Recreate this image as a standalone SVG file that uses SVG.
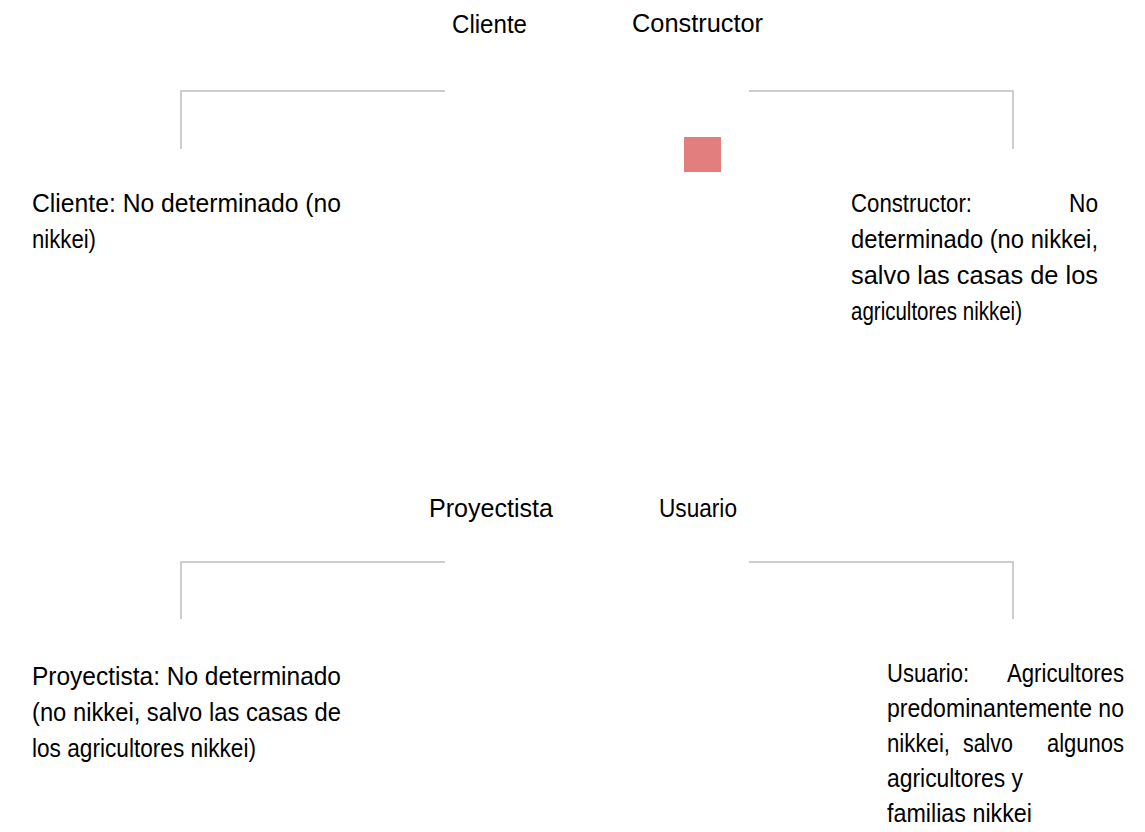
<svg xmlns="http://www.w3.org/2000/svg" width="1145" height="832" viewBox="0 0 1145 832">
<style>
text{font-family:"Liberation Sans",Arial,sans-serif;font-size:25px;fill:#000}
.c{fill:none;stroke:#bdbdbd;stroke-width:1.5}
</style>
<rect width="1145" height="832" fill="#fff"/>
<g id="connectors">
<path class="c" d="M445,91 H181 V149"/>
<path class="c" d="M749,91 H1013 V149"/>
<path class="c" d="M445,562 H181 V619"/>
<path class="c" d="M749,562 H1013 V619"/>
</g>
<g id="marker-red"><rect x="684" y="137" width="37" height="35" fill="#e27e7e"/></g>
<g id="cliente">
<text x="452" y="33" textLength="75" lengthAdjust="spacingAndGlyphs">Cliente</text>
<text x="32" y="212" textLength="309" lengthAdjust="spacingAndGlyphs">Cliente: No determinado (no</text>
<text x="32" y="248" textLength="64" lengthAdjust="spacingAndGlyphs">nikkei)</text>
</g>
<g id="constructor">
<text x="632" y="32" textLength="131" lengthAdjust="spacingAndGlyphs">Constructor</text>
<text x="851" y="212" textLength="121" lengthAdjust="spacingAndGlyphs">Constructor:</text>
<text x="1069" y="212" textLength="29" lengthAdjust="spacingAndGlyphs">No</text>
<text x="851" y="248" textLength="247" lengthAdjust="spacingAndGlyphs">determinado (no nikkei,</text>
<text x="851" y="284" textLength="247" lengthAdjust="spacingAndGlyphs">salvo las casas de los</text>
<text x="851" y="320" textLength="171" lengthAdjust="spacingAndGlyphs">agricultores nikkei)</text>
</g>
<g id="proyectista">
<text x="429" y="517" textLength="124" lengthAdjust="spacingAndGlyphs">Proyectista</text>
<text x="32" y="685" textLength="309" lengthAdjust="spacingAndGlyphs">Proyectista: No determinado</text>
<text x="32" y="721" textLength="309" lengthAdjust="spacingAndGlyphs">(no nikkei, salvo las casas de</text>
<text x="32" y="757" textLength="224" lengthAdjust="spacingAndGlyphs">los agricultores nikkei)</text>
</g>
<g id="usuario">
<text x="659" y="517" textLength="78" lengthAdjust="spacingAndGlyphs">Usuario</text>
<text x="887" y="682" textLength="82" lengthAdjust="spacingAndGlyphs">Usuario:</text>
<text x="1007" y="682" textLength="117" lengthAdjust="spacingAndGlyphs">Agricultores</text>
<text x="887" y="717" textLength="237" lengthAdjust="spacingAndGlyphs">predominantemente no</text>
<text x="887" y="752" textLength="63" lengthAdjust="spacingAndGlyphs">nikkei,</text>
<text x="963" y="752" textLength="50" lengthAdjust="spacingAndGlyphs">salvo</text>
<text x="1047" y="752" textLength="77" lengthAdjust="spacingAndGlyphs">algunos</text>
<text x="887" y="787" textLength="136" lengthAdjust="spacingAndGlyphs">agricultores y</text>
<text x="887" y="822" textLength="145" lengthAdjust="spacingAndGlyphs">familias nikkei</text>
</g>
</svg>
